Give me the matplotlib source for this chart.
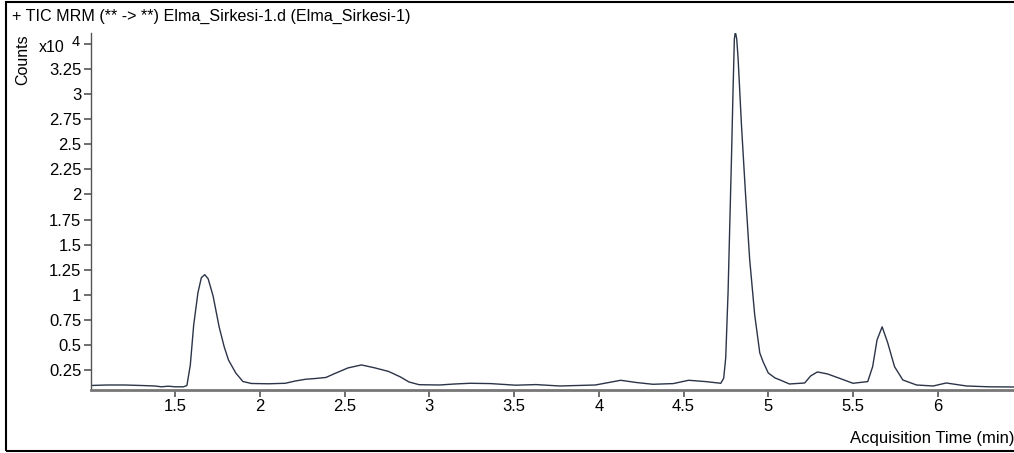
import numpy as np
import matplotlib
matplotlib.use('Agg')
import matplotlib.pyplot as plt
from matplotlib.patches import Rectangle

plt.rcParams['font.family'] = ['Liberation Sans', 'DejaVu Sans']

# acquisition time (min) and counts (x10^4)
times = [1.00, 1.10, 1.20, 1.30, 1.38, 1.42, 1.46, 1.50, 1.55, 1.57,
         1.59, 1.61, 1.635, 1.655, 1.675, 1.695, 1.724, 1.76, 1.79, 1.815,
         1.858, 1.90, 1.95, 2.05, 2.15, 2.21, 2.27, 2.33, 2.39, 2.45,
         2.52, 2.60, 2.68, 2.76, 2.83, 2.88, 2.94, 3.06, 3.15, 3.24,
         3.36, 3.51, 3.63, 3.77, 3.98, 4.06, 4.13, 4.22, 4.32, 4.44,
         4.53, 4.63, 4.72, 4.737, 4.749, 4.763, 4.773, 4.783, 4.792, 4.800,
         4.806, 4.814, 4.822, 4.842, 4.865, 4.89, 4.92, 4.95, 4.97, 5.00,
         5.04, 5.07, 5.125, 5.215, 5.25, 5.29, 5.35, 5.42, 5.50, 5.587,
         5.616, 5.642, 5.672, 5.705, 5.745, 5.794, 5.875, 5.973, 6.05, 6.17,
         6.30, 6.45]
counts = [0.095, 0.100, 0.100, 0.095, 0.090, 0.082, 0.088, 0.082, 0.082, 0.095,
          0.30, 0.70, 1.02, 1.17, 1.20, 1.16, 0.99, 0.68, 0.48, 0.35,
          0.22, 0.135, 0.115, 0.112, 0.117, 0.14, 0.157, 0.165, 0.175, 0.22,
          0.27, 0.30, 0.27, 0.235, 0.18, 0.13, 0.103, 0.10, 0.11, 0.117,
          0.114, 0.098, 0.104, 0.09, 0.10, 0.125, 0.147, 0.125, 0.107, 0.114,
          0.147, 0.134, 0.117, 0.167, 0.37, 1.03, 1.70, 2.36, 3.02, 3.55,
          3.62, 3.55, 3.36, 2.69, 2.03, 1.36, 0.80, 0.42, 0.33, 0.22,
          0.17, 0.15, 0.11, 0.12, 0.19, 0.23, 0.21, 0.167, 0.117, 0.134,
          0.283, 0.55, 0.68, 0.52, 0.283, 0.15, 0.10, 0.09, 0.12, 0.09,
          0.082, 0.08]

xticks = [1.5, 2, 2.5, 3, 3.5, 4, 4.5, 5, 5.5, 6]
xticklabels = ['1.5', '2', '2.5', '3', '3.5', '4', '4.5', '5', '5.5', '6']
yticks = [0.25, 0.5, 0.75, 1, 1.25, 1.5, 1.75, 2, 2.25, 2.5, 2.75, 3, 3.25, 3.5]
yticklabels = ['0.25', '0.5', '0.75', '1', '1.25', '1.5', '1.75', '2', '2.25',
               '2.5', '2.75', '3', '3.25', '']

W, H = 1014, 453
fig = plt.figure(figsize=(W / 100, H / 100), dpi=100)
ax = fig.add_axes([91 / W, 1 - 389.5 / H, 1 - 91 / W, (389.5 - 33) / H])

ax.plot(times, counts, color='#2b3448', lw=1.0)
ax.set_xlim(1.004, 6.45)
ax.set_ylim(0.055, 3.61)

ax.set_xticks(xticks)
ax.set_xticklabels(xticklabels)
ax.set_yticks(yticks)
ax.set_yticklabels(yticklabels)
ax.tick_params(axis='both', direction='out', length=5, width=1.2,
               color='#555555', labelsize=12, pad=2)

for side in ['top', 'right']:
    ax.spines[side].set_visible(False)
ax.spines['left'].set_color('#555555')
ax.spines['left'].set_linewidth(1.0)
ax.spines['bottom'].set_color('#777777')
ax.spines['bottom'].set_linewidth(2.0)

fig.text(12 / W, 1 - 16 / H, '+ TIC MRM (** -> **) Elma_Sirkesi-1.d (Elma_Sirkesi-1)',
         fontsize=11.6, ha='left', va='center')
fig.text(23 / W, 1 - 60 / H, 'Counts', fontsize=11.5, rotation=90,
         ha='center', va='center')
# multiplier in place of the top tick label
fig.text(39 / W, 1 - 47 / H, 'x10', fontsize=11.5, ha='left', va='center')
fig.text(72 / W, 1 - 42 / H, '4', fontsize=10.5, ha='left', va='center')
fig.text(850 / W, 1 - 438 / H, 'Acquisition Time (min)', fontsize=12,
         ha='left', va='center')

fig.patches.append(Rectangle((6 / W, 2 / H), 1.2, 449 / H, fill=False,
                             edgecolor='black', lw=1.5,
                             transform=fig.transFigure, figure=fig))

fig.savefig('out.png', dpi=100)
